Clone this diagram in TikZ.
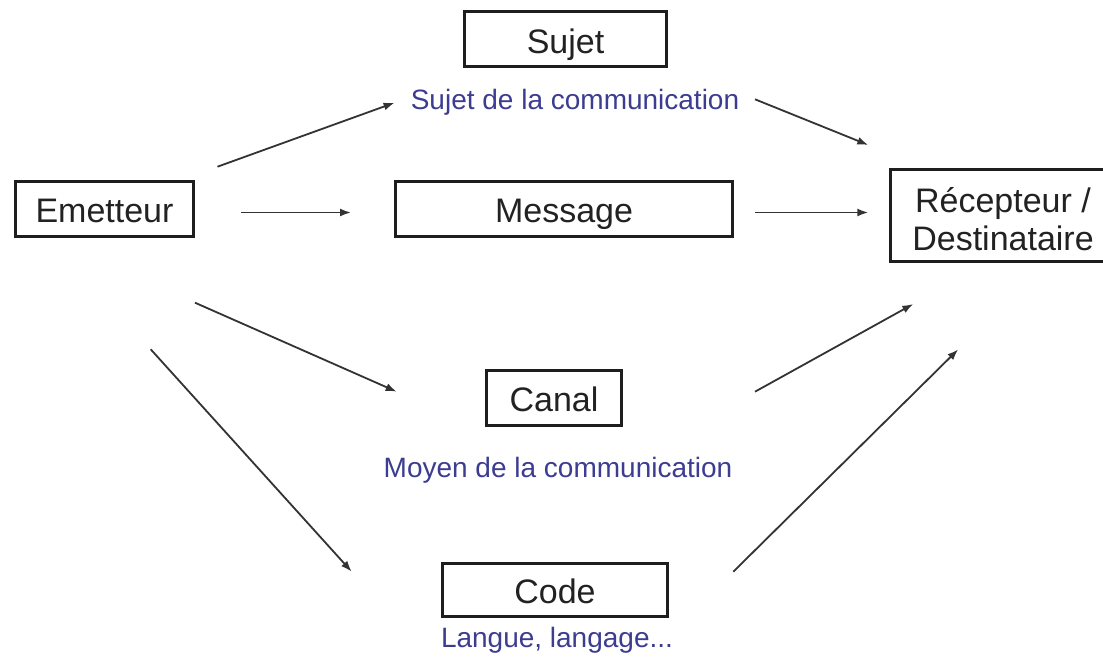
\documentclass[tikz,border=0pt]{standalone}
\usepackage{fontspec}
\setmainfont{Liberation Sans}
\usetikzlibrary{arrows.meta}
\definecolor{boxline}{HTML}{1E1E1E}
\definecolor{boxtext}{HTML}{222222}
\definecolor{notecol}{RGB}{60,60,145}
\definecolor{arrowcol}{HTML}{333333}
\begin{document}
\begin{tikzpicture}[x=1pt,y=-1pt,
  box/.style={draw=boxline, line width=3pt, text=boxtext, inner sep=0pt,
    font=\fontsize{34}{38}\selectfont, text height=30.6pt, text depth=2pt},
  note/.style={text=notecol, inner sep=0pt, anchor=base,
    font=\fontsize{28}{32}\selectfont},
  flow/.style={draw=arrowcol, line width=1.8pt,
    -{Latex[length=11pt,width=8pt]}}]
% page frame
\useasboundingbox (0,0) rectangle (1103,658);
\fill[white] (0,0) rectangle (1103,658);

% boxes
\node[box, minimum width=202pt, minimum height=55pt] (sujet) at (565.5,39) {Sujet};
\node[box, minimum width=178pt, minimum height=55pt] (emetteur) at (104.5,208.5) {Emetteur};
\node[box, minimum width=337pt, minimum height=55pt] (message) at (564,208.5) {Message};
\node[box, minimum width=225pt, minimum height=92pt, align=center,
      text height=70pt, text depth=0pt] (recepteur) at (1003,215)
      {R\'ecepteur /\\Destinataire};
\node[box, minimum width=135pt, minimum height=55pt] (canal) at (554,397.5) {Canal};
\node[box, minimum width=225pt, minimum height=53pt] (code) at (555,589.5) {Code};

% notes under the boxes
\node[note] (sujetnote) at (575,110) {Sujet de la communication};
\node[note] (canalnote) at (558,477) {Moyen de la communication};
\node[note] (codenote) at (557,647) {Langue, langage...};

% arrow end points
\coordinate (es0) at (217.5,166.7);  \coordinate (es1) at (394.6,102.7);
\coordinate (sr0) at (755,99.3);     \coordinate (sr1) at (868.3,145);
\coordinate (em0) at (241,212.5);    \coordinate (em1) at (351,212.5);
\coordinate (mr0) at (755,212.5);    \coordinate (mr1) at (868.3,212.5);
\coordinate (ec0) at (195,302.7);    \coordinate (ec1) at (396.7,391.7);
\coordinate (cr0) at (755,391.7);    \coordinate (cr1) at (913.3,304);
\coordinate (ed0) at (150.7,349.3);  \coordinate (ed1) at (351.7,571.7);
\coordinate (dr0) at (733.3,571.7);  \coordinate (dr1) at (958.3,349.3);

% arrows
\draw[flow] (es0) -- (es1);
\draw[flow] (sr0) -- (sr1);
\draw[flow] (em0) -- (em1);
\draw[flow] (mr0) -- (mr1);
\draw[flow] (ec0) -- (ec1);
\draw[flow] (cr0) -- (cr1);
\draw[flow] (ed0) -- (ed1);
\draw[flow] (dr0) -- (dr1);
\end{tikzpicture}
\end{document}
